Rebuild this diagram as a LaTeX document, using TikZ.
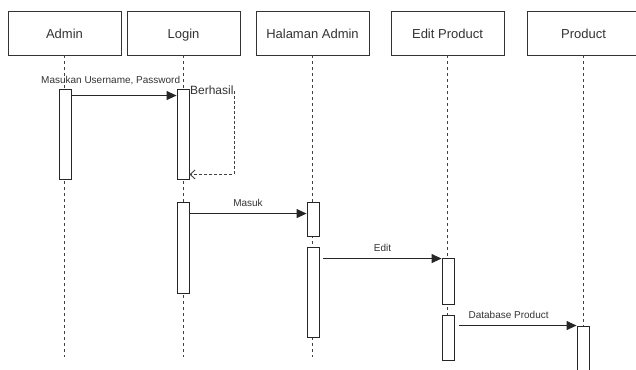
\documentclass[tikz,border=0pt]{standalone}
\usepackage{fontspec}
\setmainfont{Liberation Sans}
\usetikzlibrary{positioning,arrows.meta}

\begin{document}
\begin{tikzpicture}[x=1pt,y=-1pt,font=\fontsize{13}{15}\selectfont,
    actor/.style={draw=black!80,line width=0.9pt,fill=white,minimum width=113pt,minimum height=44pt,text=black!80,text height=11.3pt,text depth=1pt},
    lifeline/.style={draw=black!75,line width=0.9pt,dash pattern=on 3pt off 3pt},
    actbox/.style={draw=black!85,line width=0.9pt,fill=white,minimum width=12pt,inner sep=0pt},
    msg/.style={draw=black!85,line width=1pt,-{Triangle[length=10pt,width=9pt]}},
    reply/.style={draw=black!75,line width=0.9pt,dash pattern=on 3pt off 2pt,-{Straight Barb[length=5pt,width=9pt]}},
    msglabel/.style={font=\fontsize{10}{12}\selectfont,text=black!80,inner sep=1pt}]

    % Fix the frame of the picture
    \useasboundingbox (0,0) rectangle (636,369);
    \clip (0,0) rectangle (636,369);

    % Draw the header boxes
    \node[actor] (admin) at (64.5,33) {Admin};
    \node[actor] (login) at (183.5,33) {Login};
    \node[actor] (halaman) at (312.5,33) {Halaman Admin};
    \node[actor] (edit) at (447.5,33) {Edit Product};
    \node[actor] (product) at (583.5,33) {Product};

    % Lifelines
    \foreach \n in {admin,login,halaman,edit,product}
        \draw[lifeline] (\n.south) -- ++(0,302);

    % Activation boxes
    \node[actbox,minimum height=90pt] (adm) at (65.5,134) {};
    \node[actbox,minimum height=90pt] (log1) at (183,134) {};
    \node[actbox,minimum height=91pt] (log2) at (183,247.5) {};
    \node[actbox,minimum height=34pt] (hal1) at (313,219) {};
    \node[actbox,minimum height=90pt] (hal2) at (313,292) {};
    \node[actbox,minimum height=46pt] (edi1) at (448,281) {};
    \node[actbox,minimum height=45pt] (edi2) at (448,337.5) {};
    \node[actbox,minimum height=48pt] (pro1) at (583,350) {};

    % Messages
    \draw[msg] ([yshift=-7pt]adm.north east) -- ([yshift=-7pt]log1.north west)
        node[msglabel,pos=0.37,above=9pt] {Masukan Username, Password};

    % Berhasil: back to the same box
    \coordinate (ret) at (234,0);
    \draw[reply] ([yshift=-2pt]log1.north east) -| ([yshift=5pt]ret |- log1.south) -- ([yshift=5pt]log1.south east);
    \node[msglabel,font=\fontsize{12}{14}\selectfont,fill=white,anchor=west,inner sep=0.5pt] (berhasil) at ([yshift=-2pt]log1.north east) {Berhasil};

    \draw[msg] ([yshift=-12pt]log2.north east) -- ([yshift=-12pt]hal1.north west)
        node[msglabel,midway,above=5pt] {Masuk};
    \draw[msg] ([xshift=4pt,yshift=-12pt]hal2.north east) -- ([yshift=-1pt]edi1.north west)
        node[msglabel,midway,above=5pt] {Edit};
    \draw[msg] ([xshift=5pt,yshift=-11pt]edi2.north east) -- (pro1.north west)
        node[msglabel,pos=0.42,above=5pt] {Database Product};

\end{tikzpicture}
\end{document}
